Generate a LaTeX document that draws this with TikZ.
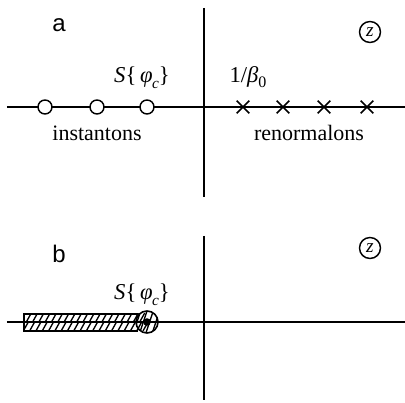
\documentclass[tikz,border=0pt]{standalone}
\usepackage{fontspec}
\setmainfont{Liberation Serif}
\newfontfamily\lblfont{Liberation Sans}
\usetikzlibrary{shapes.misc}
\newcommand{\phic}{\textit{S}\{\,\textit{φ}\kern-0.5pt\raisebox{-0.25em}{\fontsize{11.5}{11.5}\selectfont\textit{c}}\}}
\begin{document}
\begin{tikzpicture}[x=0.75pt,y=-0.75pt,
  axis/.style={line width=1.2pt},
  inst/.style={circle,draw,line width=1.1pt,fill=white,minimum size=14*0.75pt,inner sep=0pt},
  renorm/.style={cross out,draw,line width=1.2pt,minimum size=11*0.75pt,inner sep=0pt},
  zmark/.style={circle,draw,line width=1.1pt,minimum size=21*0.75pt,inner sep=0pt,font=\fontsize{14.5}{14.5}\selectfont\itshape},
  txt/.style={font=\fontsize{16.5}{18}\selectfont,inner sep=0pt},
  mlbl/.style={font=\fontsize{17}{18}\selectfont,inner sep=0pt,anchor=base},
  panel/.style={font=\lblfont\fontsize{18}{20}\selectfont,inner sep=0pt,anchor=base}]
\useasboundingbox (0,0) rectangle (405,403);
% ---------- panel a ----------
\coordinate (aL) at (7,107); \coordinate (aR) at (405,107);
\coordinate (aT) at (204,8); \coordinate (aB) at (204,197);
\draw[axis] (aL) -- (aR);
\draw[axis] (aT) -- (aB);
\node[inst] (i1) at (45,107) {};
\node[inst] (i2) at (97,107) {};
\node[inst] (i3) at (147,107) {};
\node[renorm] (r1) at (243,107) {};
\node[renorm] (r2) at (283,107) {};
\node[renorm] (r3) at (324,107) {};
\node[renorm] (r4) at (367,107) {};
\node[panel] (la) at (59,32) {a};
\node[zmark] (za) at (370,32) {z};
\node[mlbl] (sa) at (142,83) {\phic};
\node[mlbl] (ba) at (248,83) {1/\textit{β}\raisebox{-0.2em}{\fontsize{12}{12}\selectfont 0}};
\node[txt] (ins) at (97,133) {instantons};
\node[txt] (ren) at (309,133) {renormalons};
% ---------- panel b ----------
\coordinate (bL) at (7,322); \coordinate (bR) at (405,322);
\coordinate (bT) at (204,236); \coordinate (bB) at (204,400);
\begin{scope}
  \clip (24,314) rectangle (147,321.5);
  \foreach \k in {0,...,30} {
    \draw[line width=1pt] ({20+\k*6.3},322) -- ({25+\k*6.3},313);
  }
\end{scope}
\begin{scope}
  \clip (24,322.5) rectangle (147,331);
  \foreach \k in {0,...,30} {
    \draw[line width=1pt] ({17+\k*6.3},331) -- ({22+\k*6.3},322);
  }
\end{scope}
\begin{scope}
  \clip (147,322) circle[radius=11];
  \foreach \k in {0,...,5} {
    \draw[line width=1pt] ({133+\k*6.3},334) -- ({141+\k*6.3},310);
  }
\end{scope}
\draw[line width=1.1pt] (138,314) -- (24,314) -- (24,331) -- (138,331);
\node[circle,draw,line width=1.2pt,minimum size=22*0.75pt,inner sep=0pt] (cb) at (147,322) {};
\draw[axis] (bL) -- (bR);
\draw[axis] (bT) -- (bB);
\fill (147,322) circle[radius=3.8];
\node[panel] (lb) at (59,263) {b};
\node[zmark] (zb) at (370,248) {z};
\node[mlbl] (sb) at (142,300) {\phic};
\end{tikzpicture}
\end{document}
